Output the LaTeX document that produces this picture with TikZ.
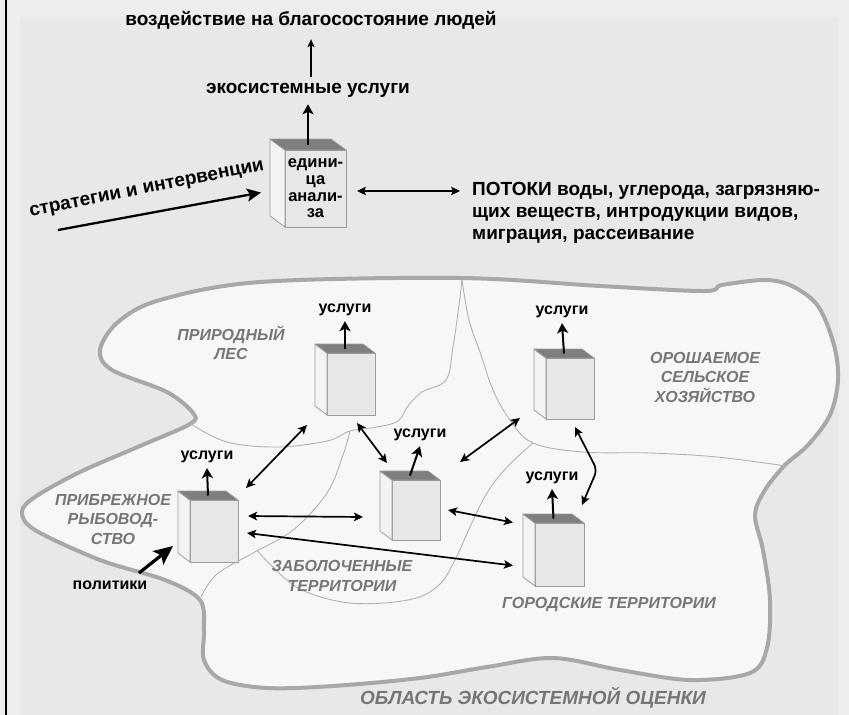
\documentclass[tikz,border=0pt]{standalone}
\usepackage{fontspec}
\setmainfont{Liberation Sans}
\usetikzlibrary{arrows.meta,calc}

\definecolor{pagebg}{HTML}{EDEDED}
\definecolor{panelbg}{HTML}{E8E8E8}
\definecolor{blobfill}{HTML}{F7F7F7}
\definecolor{blobline}{HTML}{A8A8A8}
\definecolor{divline}{HTML}{B2B2B2}
\definecolor{regiontext}{HTML}{767676}
\definecolor{boxfront}{HTML}{E7E7E7}
\definecolor{boxside}{HTML}{F3F3F3}
\definecolor{boxtop}{HTML}{7E7E7E}
\definecolor{boxedge}{HTML}{9C9C9C}

% a unit of analysis drawn as an oblique box: name, x, y, width, height, depth x, depth y, text
\newcommand{\cubebox}[8]{%
  \node[boxface, minimum width=#4pt, minimum height=#5pt] (#1) at (#2,#3) {#8};
  \filldraw[boxedge, line width=0.8pt, fill=boxside, line join=round]
    (#1.north west) -- ++(#6,#7) -- ($(#1.south west)+(#6,#7)$) -- (#1.south west) -- cycle;
  \filldraw[boxedge, line width=0.8pt, fill=boxtop, line join=round]
    (#1.north west) -- ++(#6,#7) -- ($(#1.north east)+(#6,#7)$) -- (#1.north east) -- cycle;
  \coordinate (#1-top) at ($(#1.north)+(#6/2,#7/2)$);
}

\begin{document}
\begin{tikzpicture}[x=1pt,y=-1pt,
  boxface/.style={draw=boxedge, line width=0.8pt, fill=boxfront, inner sep=0pt, outer sep=0pt,
    align=center, font=\bfseries\fontsize{16.5}{16.6}\selectfont},
  toplabel/.style={font=\bfseries\fontsize{19}{22}\selectfont, inner sep=0pt},
  svclabel/.style={font=\bfseries\fontsize{16}{18}\selectfont, inner sep=0pt},
  region/.style={font=\bfseries\itshape\fontsize{16}{19.5}\selectfont, text=regiontext, align=center, inner sep=0pt},
  divider/.style={divline, line width=0.9pt},
  uparrow/.style={line width=2.3pt, -{Stealth[length=10pt,width=11pt,inset=2.5pt]}},
  thinarrow/.style={line width=1.4pt, -{Stealth[length=8pt,width=7pt,inset=2pt]}},
  dbl/.style={line width=1.7pt, {Stealth[length=9pt,width=8.5pt,inset=2pt]}-{Stealth[length=9pt,width=8.5pt,inset=2pt]}},
]
\useasboundingbox (0,0) rectangle (849,715);
\fill[pagebg] (0,0) rectangle (849,715);
\fill[panelbg] (20,17) rectangle (838,715);
\draw[line width=2pt] (5.5,0) -- (5.5,715);

% ---------- upper scheme ----------
\node[toplabel] (impact) at (311,20) {воздействие на благосостояние людей};
\node[toplabel] (es) at (308,90) {экосистемные услуги};
\cubebox{U}{315.5}{188.5}{61}{77}{-15}{-11}{едини-\\ца\\анали-\\за}
\draw[uparrow] (U-top) -- ($(es.south)+(0,7)$);
\draw[thinarrow] ($(es.north)+(3,-6)$) -- ($(impact.south)+(0,10)$);

\node[toplabel, rotate=11.2] (strat) at (147,190) {стратегии и интервенции};
\coordinate (s0) at (58,230);
\draw[line width=2.3pt, -{Stealth[length=14pt,width=13pt,inset=3pt]}] (s0) -- ($(U.west)+(-24,4)$);

\node[toplabel, anchor=west, align=left] (flows) at (472,213)
  {ПОТОКИ воды, углерода, загрязняю-\\щих веществ, интродукции видов,\\миграция, рассеивание};
\draw[dbl] ($(U.east)+(11,2.5)$) -- ($(flows.west)+(-12,-22)$);

% ---------- assessment area ----------
\filldraw[fill=blobfill, draw=blobline, line width=4pt]
  plot[smooth cycle, tension=0.55] coordinates {
  (193,413) (167,392) (112,370) (100,350) (118,322) (160,300) (260,282) (460,278)
  (600,286) (704,291) (722,285) (765,280) (792,286) (818,306) (834,345) (838,380)
  (830,415) (808,445) (785,465) (765,490) (755,515) (763,550) (770,600) (767,648)
  (750,673) (690,680) (620,670) (553,658) (487,667) (420,678) (333,686) (267,688)
  (222,680) (204,660) (204,630) (200,600) (165,580) (100,560) (35,530) (22,512)
  (35,497) (80,472) (140,446) (190,424)};

% region boundaries
\draw[divider] plot[smooth, tension=0.6] coordinates {
  (191,424) (227,442) (277,447) (327,441) (350,431) (377,427) (398,421) (408,406)
  (422,392) (446,380) (453,347) (459,305) (462,280)};
\draw[divider] plot[smooth, tension=0.6] coordinates {
  (350,431) (343,455) (327,493) (293,530) (253,553) (217,574) (201,597)};
\draw[divider] plot[smooth, tension=0.6] coordinates {
  (462,280) (469,320) (480,352) (493,390) (510,420) (533,443) (583,452) (650,453)
  (717,457) (786,466)};
\draw[divider] plot[smooth, tension=0.6] coordinates {
  (533,443) (507,467) (487,493) (470,527) (455,560) (438,586) (408,600) (350,603)
  (300,589) (270,564) (257,550)};

% region names
\node[region] (forestname) at (231,343) {ПРИРОДНЫЙ\\ЛЕС};
\node[region] (agriname) at (705,377) {ОРОШАЕМОЕ\\СЕЛЬСКОЕ\\ХОЗЯЙСТВО};
\node[region] (coastname) at (113,519) {ПРИБРЕЖНОЕ\\РЫБОВОД-\\СТВО};
\node[region] (wetname) at (342,576) {ЗАБОЛОЧЕННЫЕ\\ТЕРРИТОРИИ};
\node[region] (urbanname) at (609,605) {ГОРОДСКИЕ ТЕРРИТОРИИ};
\node[region, font=\bfseries\itshape\fontsize{19}{22}\selectfont] (areaname) at (533,698)
  {ОБЛАСТЬ ЭКОСИСТЕМНОЙ ОЦЕНКИ};

% units of analysis inside the regions
\cubebox{A}{351}{384}{48}{62}{-12}{-9}{}
\cubebox{B}{416}{510}{48}{60}{-12}{-9}{}
\cubebox{C}{214}{531}{48}{62}{-12}{-9}{}
\cubebox{D}{570}{388.5}{48}{61}{-12}{-9}{}
\cubebox{E}{559.5}{554.5}{49}{63}{-12}{-9}{}

\node[svclabel] (sA) at (345,310) {услуги};
\node[svclabel] (sB) at (420,435) {услуги};
\node[svclabel] (sC) at (207,457) {услуги};
\node[svclabel] (sD) at (562,312) {услуги};
\node[svclabel] (sE) at (552,478) {услуги};
\foreach \b in {A,B,C,D,E}
  \draw[uparrow, line width=2pt] (\b-top) -- ($(s\b.south)+(0,5)$);

% flows between the units
\draw[dbl] ($(C.north east)+(8,-12)$) -- ($(A.south west)+(-20,10)$);
\draw[dbl] ($(A.south)+(6,8)$) -- ($(B.north west)+(-5,-17)$);
\draw[dbl] ($(C.east)+(10,-15)$) -- ($(B.west)+(-29,7)$);
\draw[dbl] ($(C.east)+(9,2)$) -- ($(E.west)+(-22,11)$);
\draw[dbl] ($(B.east)+(8,0)$) -- ($(E.west)+(-22,-32)$);
\draw[dbl] ($(B.north east)+(20,-18)$) -- ($(D.south west)+(-26,-1)$);
\draw[dbl, rounded corners=6pt] ($(D.south)+(5,8)$) -- (597,470) -- ($(E.north east)+(-2,-18)$);

% policies
\node[svclabel] (pol) at (110,585) {политики};
\coordinate (p0) at (139,573);
\draw[line width=3.2pt, -{Stealth[length=19pt,width=17pt,inset=4pt]}] (p0) -- ($(C.west)+(-17,15)$);
\end{tikzpicture}
\end{document}
